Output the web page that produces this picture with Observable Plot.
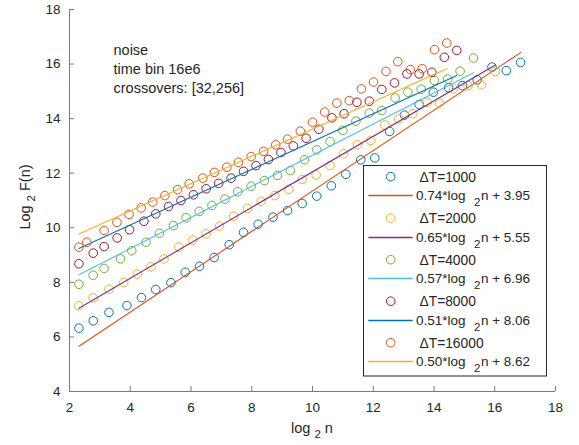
<!DOCTYPE html>
<html><head><meta charset="utf-8">
<script src="https://cdn.jsdelivr.net/npm/d3@7"></script>
<script src="https://cdn.jsdelivr.net/npm/@observablehq/plot@0.6"></script>
<style>
html,body{margin:0;padding:0;background:#fff;}
#chart{width:579px;height:445px;}
</style></head><body><div id="chart"></div>
<script>
const FONT = "'Liberation Sans', Arial, Helvetica, sans-serif";
const deltaT = [1000, 2000, 4000, 8000, 16000];
const pointColors = ["#0072BD", "#EDB120", "#77AC30", "#A2142F", "#D95319"];
const fitColors = ["#D95319", "#7E2F8E", "#4DBEEE", "#0072BD", "#EDB120"];
const slopes = [0.74, 0.65, 0.57, 0.51, 0.50];
const intercepts = [3.95, 5.55, 6.96, 8.06, 8.62];

const x1000 = [2.31,2.78,3.30,3.89,4.37,4.84,5.34,5.81,6.28,6.76,7.26,7.73,8.21,8.70,9.18,9.66,10.14,10.62,11.10,11.59,12.05,12.54,13.03,13.51,13.98,14.48,14.94,15.42,15.91,16.38,16.85];
const y1000 = [6.32,6.59,6.90,7.15,7.44,7.74,7.99,8.37,8.59,8.91,9.38,9.83,10.13,10.39,10.63,10.89,11.16,11.54,11.96,12.49,12.56,13.53,14.13,14.52,14.97,15.13,15.21,15.42,15.89,15.76,16.06];
const x2000 = [2.31,2.78,3.30,3.79,4.23,4.68,5.11,5.60,6.06,6.50,6.94,7.40,7.86,8.31,8.76,9.22,9.66,10.12,10.58,11.02,11.48,11.92,12.38,12.84,13.30,13.77,14.18,14.64,15.12,15.56,16.02];
const y2000 = [7.14,7.43,7.75,8.00,8.30,8.57,8.86,9.29,9.55,9.78,10.06,10.42,10.71,10.97,11.18,11.41,11.77,11.94,12.28,12.71,13.04,13.20,13.77,13.99,14.18,14.60,14.57,15.09,15.21,15.24,15.73];
const x4000 = [2.31,2.78,3.14,3.68,4.05,4.52,4.96,5.42,5.84,6.27,6.69,7.12,7.54,7.98,8.42,8.85,9.27,9.74,10.14,10.58,11.00,11.43,11.87,12.28,12.72,13.14,13.58,14.01,14.45,14.86,15.30];
const y4000 = [7.93,8.26,8.51,8.86,9.16,9.47,9.80,10.08,10.37,10.60,10.82,11.05,11.32,11.52,11.73,11.92,12.10,12.49,12.86,13.16,13.57,13.91,14.20,14.30,14.76,14.97,15.08,15.40,15.45,15.74,16.22];
const x8000 = [2.31,2.78,3.14,3.57,3.98,4.45,4.84,5.26,5.67,6.08,6.50,6.91,7.32,7.73,8.14,8.55,8.96,9.37,9.79,10.21,10.64,11.04,11.46,11.87,12.28,12.70,13.11,13.51,13.93,14.34,14.75];
const y8000 = [8.68,9.07,9.31,9.63,9.93,10.24,10.51,10.78,11.00,11.21,11.43,11.63,11.82,12.07,12.28,12.50,12.76,13.00,13.28,13.61,14.03,14.18,14.60,14.64,15.07,15.31,15.64,15.64,15.70,16.25,16.50];
const x16000 = [2.31,2.57,3.14,3.56,3.96,4.36,4.74,5.14,5.56,5.94,6.39,6.77,7.18,7.56,7.98,8.39,8.79,9.18,9.60,10.00,10.40,10.80,11.21,11.61,12.01,12.42,12.81,13.22,13.61,14.02,14.42];
const y16000 = [9.29,9.47,9.90,10.20,10.49,10.73,10.94,11.18,11.40,11.61,11.82,12.03,12.22,12.40,12.61,12.80,13.04,13.25,13.54,13.87,14.24,14.57,14.66,15.09,15.34,15.73,16.09,15.80,15.83,16.53,16.77];

const xTicks = [2, 4, 6, 8, 10, 12, 14, 16, 18];
const yTicks = [4, 6, 8, 10, 12, 14, 16, 18];
const notes = ["noise", "time bin 16e6", "crossovers: [32,256]"];

const xs = [x1000, x2000, x4000, x8000, x16000];
const ys = [y1000, y2000, y4000, y8000, y16000];

const series = deltaT.map((dt, i) => {
  const pts = xs[i].map((x, j) => ({x, y: ys[i][j]}));
  const ext = d3.extent(xs[i]);
  const fit = ext.map(x => ({x, y: slopes[i] * x + intercepts[i]}));
  return {dt, pts, fit, color: pointColors[i], fitColor: fitColors[i], slope: slopes[i], intercept: intercepts[i]};
});

const W = 579, H = 445, mL = 69, mR = 24, mT = 9, mB = 54;
const frameW = W - mL - mR, frameH = H - mT - mB;
const AX = "#7a7a7a";

const marks = [
  Plot.ruleX([2], {stroke: AX, strokeWidth: 1}),
  Plot.ruleY([4], {stroke: AX, strokeWidth: 1}),
  Plot.tickX(xTicks, {x: d => d, stroke: AX, insetTop: frameH - 5}),
  Plot.tickY(yTicks, {y: d => d, stroke: AX, insetRight: frameW - 5}),
  Plot.axisX({ticks: xTicks, tickSize: 0, tickPadding: 11, label: null, fill: "#262626"}),
  Plot.axisY({ticks: yTicks, tickSize: 0, tickPadding: 9, label: null, fill: "#262626"}),
  Plot.text([notes.join("\n")], {text: d => d, frameAnchor: "top-left", textAnchor: "start", lineAnchor: "top", dx: 44, dy: 32, lineHeight: 1.31, fontSize: 14.5, fill: "#262626"})
];
series.forEach(s => {
  marks.push(Plot.dot(s.pts, {x: "x", y: "y", r: 4.3, stroke: s.color, strokeWidth: 1, fill: "none"}));
  marks.push(Plot.line(s.fit, {x: "x", y: "y", stroke: s.fitColor, strokeWidth: 1.1}));
});

const plot = Plot.plot({
  width: W, height: H,
  marginLeft: mL, marginRight: mR, marginTop: mT, marginBottom: mB,
  style: {fontFamily: FONT, fontSize: "13.5px", color: "#262626", background: "#fff", overflow: "visible"},
  x: {domain: [2, 18]},
  y: {domain: [4, 18]},
  marks
});
document.getElementById("chart").appendChild(plot);

const svg = d3.select(plot);
// axis labels
const xl = svg.append("text").attr("x", 312).attr("y", 433).attr("text-anchor", "middle")
  .attr("font-family", FONT).attr("font-size", 14.5).attr("fill", "#262626");
xl.append("tspan").text("log");
xl.append("tspan").attr("dx", 4).attr("dy", 5).attr("font-size", 11.5).text("2");
xl.append("tspan").attr("dx", 4).attr("dy", -5).text("n");

const yl = svg.append("text").attr("transform", "translate(30,197) rotate(-90)").attr("text-anchor", "middle")
  .attr("font-family", FONT).attr("font-size", 14.5).attr("fill", "#262626");
yl.append("tspan").text("Log");
yl.append("tspan").attr("dx", 4).attr("dy", 5).attr("font-size", 11.5).text("2");
yl.append("tspan").attr("dx", 4).attr("dy", -5).text("F(n)");

// legend
const leg = svg.append("g").attr("font-family", FONT).attr("fill", "#262626").attr("text-anchor", "start");
leg.append("rect").attr("x", 363.5).attr("y", 165.5).attr("width", 183).attr("height", 210.5)
  .attr("fill", "#fff").attr("stroke", "#262626").attr("stroke-width", 1);
series.forEach((s, i) => {
  const cy = 176.7 + i * 41.5, ly = Math.round(195.3 + i * 41.5) + 0.5;
  leg.append("circle").attr("cx", 390.7).attr("cy", cy).attr("r", 4.3)
    .attr("fill", "none").attr("stroke", s.color).attr("stroke-width", 1);
  leg.append("text").attr("x", 419.5).attr("y", cy + 5).attr("text-anchor", "start").attr("font-size", 13.8).text(`ΔT=${s.dt}`);
  leg.append("line").attr("x1", 368.3).attr("x2", 412.7).attr("y1", ly).attr("y2", ly)
    .attr("stroke", s.fitColor).attr("stroke-width", 1.3);
  const t = leg.append("text").attr("x", 416).attr("y", ly + 4).attr("text-anchor", "start").attr("font-size", 13.5);
  t.append("tspan").text(`${s.slope.toFixed(2)}*log`);
  t.append("tspan").attr("dx", 8.5).attr("dy", 6.3).attr("font-size", 11.5).text("2");
  t.append("tspan").attr("dx", 0.5).attr("dy", -6.3).text(`n + ${s.intercept.toFixed(2)}`);
});
</script></body></html>
